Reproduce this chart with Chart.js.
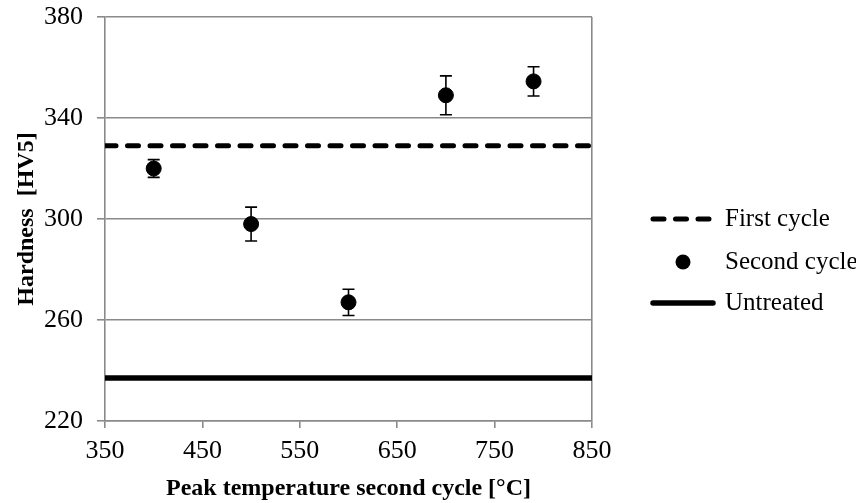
<!DOCTYPE html>
<html>
<head>
<meta charset="utf-8">
<script src="https://cdn.jsdelivr.net/npm/chart.js@4.4.1/dist/chart.umd.min.js"></script>
<style>
  html, body { margin: 0; padding: 0; background: #fff; }
  #wrap { width: 856px; height: 503px; }
</style>
</head>
<body>
<div id="wrap"><canvas id="c" width="856" height="503"></canvas></div>
<script>
// Peak temperature of the second thermal cycle and measured hardness
const peakTemps = [400, 500, 600, 700, 790];
const hardnessSecond = [320, 298, 267, 349, 354.5];
const hardnessError = [3.5, 6.7, 5.2, 7.7, 5.8];
// Reference levels
const hardnessFirst = 329;
const hardnessUntreated = 237;
// Axis ranges and ticks
const tempRange = [350, 850];
const tempStep = 100;
const hardnessRange = [220, 380];
const hardnessStep = 40;
const seriesNames = ['First cycle', 'Second cycle', 'Untreated'];
const axisTitles = ['Peak temperature second cycle [°C]', 'Hardness  [HV5]'];

const SERIF = '"Liberation Serif", "Times New Roman", serif';
const GRID = '#8a8a8a';

// Vertical error bars for the scatter series
const errorBars = {
  id: 'errorBars',
  afterDatasetsDraw(chart) {
    const xs = chart.scales.x, ys = chart.scales.y;
    const ctx = chart.ctx;
    ctx.save();
    ctx.strokeStyle = '#000';
    ctx.lineWidth = 1.6;
    peakTemps.forEach((t, i) => {
      const x = xs.getPixelForValue(t);
      const yHi = ys.getPixelForValue(hardnessSecond[i] + hardnessError[i]);
      const yLo = ys.getPixelForValue(hardnessSecond[i] - hardnessError[i]);
      ctx.beginPath();
      ctx.moveTo(x, yHi); ctx.lineTo(x, yLo);
      ctx.moveTo(x - 6, yHi); ctx.lineTo(x + 6, yHi);
      ctx.moveTo(x - 6, yLo); ctx.lineTo(x + 6, yLo);
      ctx.stroke();
    });
    ctx.restore();
  }
};

// Legend to the right of the plot area
const sideLegend = {
  id: 'sideLegend',
  afterDraw(chart) {
    const ctx = chart.ctx;
    const ds = chart.data.datasets;
    const x0 = 650, x1 = 716, tx = 725;
    const rows = [219, 262, 303];
    ctx.save();
    ctx.font = '25px ' + SERIF;
    ctx.fillStyle = '#000';
    ctx.textBaseline = 'middle';
    ds.forEach((d, i) => {
      const y = rows[i];
      if (d.showLine) {
        ctx.beginPath();
        ctx.lineWidth = d.borderWidth;
        ctx.strokeStyle = d.borderColor;
        ctx.lineCap = 'round';
        ctx.setLineDash(d.borderDash || []);
        ctx.moveTo(x0 + 3, y); ctx.lineTo(x1 - 3, y);
        ctx.stroke();
        ctx.setLineDash([]);
      } else {
        ctx.beginPath();
        ctx.arc((x0 + x1) / 2, y, d.pointRadius, 0, Math.PI * 2);
        ctx.fillStyle = d.backgroundColor;
        ctx.fill();
        ctx.fillStyle = '#000';
      }
      ctx.fillText(d.label, tx, y);
    });
    ctx.restore();
  }
};

new Chart(document.getElementById('c'), {
  type: 'scatter',
  data: {
    datasets: [
      {
        label: seriesNames[0],
        data: tempRange.map(t => ({ x: t, y: hardnessFirst })),
        showLine: true,
        borderColor: '#000',
        borderWidth: 5,
        borderDash: [11, 11.5],
        borderCapStyle: 'round',
        pointRadius: 0,
        order: 2
      },
      {
        label: seriesNames[1],
        data: peakTemps.map((t, i) => ({ x: t, y: hardnessSecond[i] })),
        showLine: false,
        backgroundColor: '#000',
        borderColor: '#000',
        pointRadius: 7.5,
        pointHoverRadius: 7.5,
        order: 1
      },
      {
        label: seriesNames[2],
        data: tempRange.map(t => ({ x: t, y: hardnessUntreated })),
        showLine: true,
        borderColor: '#000',
        borderWidth: 5.5,
        borderCapStyle: 'round',
        pointRadius: 0,
        order: 3
      }
    ]
  },
  options: {
    responsive: false,
    animation: false,
    events: [],
    layout: { padding: { top: 17, right: 264, bottom: 0, left: 0 } },
    plugins: { legend: { display: false }, tooltip: { enabled: false } },
    scales: {
      x: {
        type: 'linear',
        min: tempRange[0],
        max: tempRange[1],
        afterFit(s) { s.height = 82; s.paddingLeft = 0; s.paddingRight = 0; },
        ticks: {
          stepSize: tempStep,
          color: '#000',
          font: { family: SERIF, size: 26 },
          padding: 8,
          maxRotation: 0
        },
        grid: {
          drawOnChartArea: true,
          color: c => (c.tick && c.tick.value === tempRange[1]) ? GRID : 'rgba(0,0,0,0)',
          tickColor: GRID,
          tickLength: 7,
          lineWidth: 1.6,
          tickWidth: 1.6
        },
        border: { color: GRID, width: 1.6 },
        title: {
          display: true,
          text: axisTitles[0],
          color: '#000',
          font: { family: SERIF, size: 24, weight: 'bold' },
          padding: { top: 0, bottom: 0 }
        }
      },
      y: {
        min: hardnessRange[0],
        max: hardnessRange[1],
        afterFit(s) { s.width = 105; s.paddingTop = 0; s.paddingBottom = 0; },
        ticks: {
          stepSize: hardnessStep,
          color: '#000',
          font: { family: SERIF, size: 26 },
          padding: 14
        },
        grid: {
          color: GRID,
          tickColor: GRID,
          tickLength: 8,
          lineWidth: 1.6,
          tickWidth: 1.6
        },
        border: { color: GRID, width: 1.6 },
        title: {
          display: true,
          text: axisTitles[1],
          color: '#000',
          font: { family: SERIF, size: 24, weight: 'bold' },
          padding: { top: 12, bottom: 0 }
        }
      }
    }
  },
  plugins: [errorBars, sideLegend]
});
</script>
</body>
</html>
